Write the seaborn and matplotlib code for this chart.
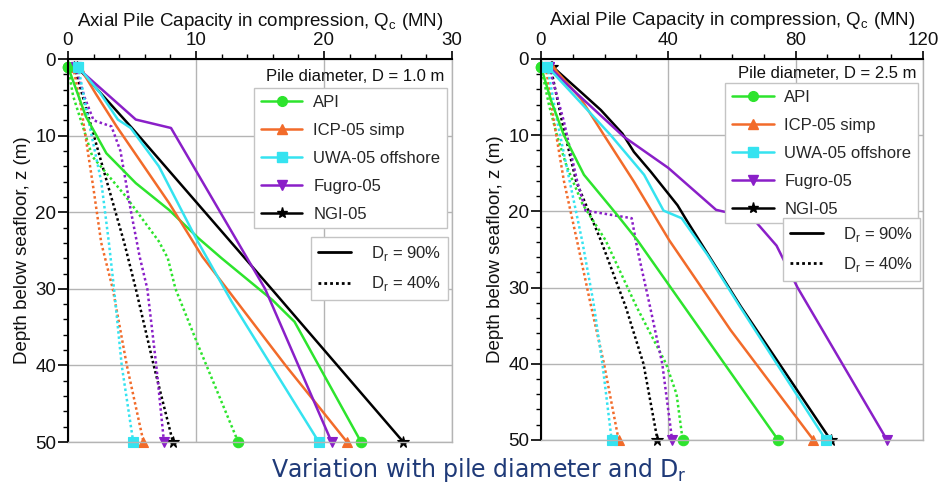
import matplotlib
matplotlib.use("Agg")
import matplotlib.pyplot as plt
from matplotlib.lines import Line2D
from matplotlib.ticker import MultipleLocator
import seaborn as sns

# ---------------- data ----------------
METHODS = ["API", "ICP-05 simp", "UWA-05 offshore", "Fugro-05", "NGI-05"]
COLORS = ["#2de42d", "#f26b2a", "#35e3f0", "#8a1fc8", "#000000"]
MARKERS = ["o", "^", "s", "v", "*"]
DR_LABELS = ["D$_\\mathregular{r}$ = 90%", "D$_\\mathregular{r}$ = 40%"]

# Pile diameter D = 1.0 m  (Q in MN, z in m)
D1_API_90_Q = [0, 1.4, 3.0, 5.3, 7.9, 10.2, 12.0, 16.0, 17.7, 22.9]
D1_API_90_Z = [1, 7.5, 12.3, 16.2, 19.7, 23.4, 26.0, 31.5, 34.3, 50]
D1_ICP_90_Q = [0.9, 2.2, 3.8, 7.9, 10.5, 13.2, 17.0, 19.6, 21.8]
D1_ICP_90_Z = [1, 4.6, 8.8, 18.8, 25.8, 31.7, 40, 45.4, 50]
D1_UWA_90_Q = [0.8, 2.5, 3.9, 4.9, 7.1, 10.0, 12.8, 19.6]
D1_UWA_90_Z = [1, 4.4, 7.9, 9.0, 14.0, 23.4, 31.7, 50]
D1_FUG_90_Q = [0.65, 5.3, 8.05, 15.4, 20.6]
D1_FUG_90_Z = [1, 7.9, 9.0, 30, 50]
D1_NGI_90_Q = [0.7, 5.0, 15.9, 26.2]
D1_NGI_90_Z = [1, 9, 30, 50]

D1_API_40_Q = [0, 0.4, 1.9, 4.5, 7.1, 7.8, 8.4, 10.2, 13.3]
D1_API_40_Z = [1, 4.8, 12.7, 17.9, 23.8, 26, 30, 37.5, 50]
D1_ICP_40_Q = [0.4, 1.0, 2.0, 2.6, 3.5, 4.6, 5.9]
D1_ICP_40_Z = [1, 6, 17, 24, 30, 40, 50]
D1_UWA_40_Q = [0.8, 1.6, 2.6, 3.2, 3.6, 4.2, 5.1]
D1_UWA_40_Z = [1, 8, 16, 24, 30, 40, 50]
D1_FUG_40_Q = [0.6, 1.3, 2.0, 3.4, 4.1, 4.9, 5.6, 6.2, 6.9, 7.5]
D1_FUG_40_Z = [1, 5, 8.0, 8.8, 12, 19.7, 25.8, 30, 40, 50]
D1_NGI_40_Q = [0.5, 1.6, 2.7, 4.4, 5.3, 6.7, 8.2]
D1_NGI_40_Z = [1, 7.5, 14, 24, 30, 40, 50]

# Pile diameter D = 2.5 m
D25_API_90_Q = [0, 3.2, 7.2, 13.5, 24, 30.3, 74.5]
D25_API_90_Z = [1, 5.5, 10, 15.2, 20.5, 23.8, 50]
D25_ICP_90_Q = [3.6, 12.5, 19.8, 29.2, 40.3, 59.6, 85.6]
D25_ICP_90_Z = [1, 5.2, 10, 16.1, 23.8, 35.6, 50]
D25_UWA_90_Q = [2, 9.3, 21.9, 32.4, 38.5, 44.2, 52.3, 62.5, 89.5]
D25_UWA_90_Z = [1, 4.3, 10, 15.2, 19.9, 20.9, 25.7, 32.5, 50]
D25_FUG_90_Q = [2.5, 8.3, 26, 40, 55, 66.5, 74, 80.6, 108.7]
D25_FUG_90_Z = [1, 3.4, 10.2, 14.3, 19.8, 20.9, 24.5, 30, 50]
D25_NGI_90_Q = [3.6, 13.5, 18.8, 25.6, 29.2, 34.5, 42.9, 45.5, 50, 62.8, 91]
D25_NGI_90_Z = [1, 4.7, 6.7, 9.8, 12.2, 14.8, 19.2, 21, 24, 32.5, 50]

D25_API_40_Q = [0, 2.5, 5, 8, 13, 20.3, 30, 39.3, 42.6, 44.5]
D25_API_40_Z = [1, 6, 10, 14, 19, 23.8, 32.5, 40, 44, 50]
D25_ICP_40_Q = [1.5, 4, 7.2, 11.4, 15.5, 19.8, 24.4]
D25_ICP_40_Z = [1, 8, 16, 24, 32, 40, 50]
D25_UWA_40_Q = [2, 5, 8.5, 13, 16.5, 19.3, 22.2]
D25_UWA_40_Z = [1, 8, 15, 24, 32, 40, 50]
D25_FUG_40_Q = [2.5, 7.2, 11.4, 14, 28.5, 30.3, 34, 38.1, 41.2]
D25_FUG_40_Z = [1, 8.2, 16.1, 19.9, 20.9, 25, 32, 40, 50]
D25_NGI_40_Q = [3, 6.5, 11, 15, 18.8, 26.6, 32.2, 36.6]
D25_NGI_40_Z = [1, 8, 16, 20, 23.8, 32.5, 40, 50]

PANEL1_90 = [(D1_API_90_Q, D1_API_90_Z), (D1_ICP_90_Q, D1_ICP_90_Z), (D1_UWA_90_Q, D1_UWA_90_Z),
             (D1_FUG_90_Q, D1_FUG_90_Z), (D1_NGI_90_Q, D1_NGI_90_Z)]
PANEL1_40 = [(D1_API_40_Q, D1_API_40_Z), (D1_ICP_40_Q, D1_ICP_40_Z), (D1_UWA_40_Q, D1_UWA_40_Z),
             (D1_FUG_40_Q, D1_FUG_40_Z), (D1_NGI_40_Q, D1_NGI_40_Z)]
PANEL2_90 = [(D25_API_90_Q, D25_API_90_Z), (D25_ICP_90_Q, D25_ICP_90_Z), (D25_UWA_90_Q, D25_UWA_90_Z),
             (D25_FUG_90_Q, D25_FUG_90_Z), (D25_NGI_90_Q, D25_NGI_90_Z)]
PANEL2_40 = [(D25_API_40_Q, D25_API_40_Z), (D25_ICP_40_Q, D25_ICP_40_Z), (D25_UWA_40_Q, D25_UWA_40_Z),
             (D25_FUG_40_Q, D25_FUG_40_Z), (D25_NGI_40_Q, D25_NGI_40_Z)]

XLABEL = "Axial Pile Capacity in compression, Q$_\\mathregular{c}$ (MN)"
YLABEL = "Depth below seafloor, z (m)"
CAPTION = "Variation with pile diameter and D$_\\mathregular{r}$"

# ---------------- style ----------------
sns.set_theme(style="white")
plt.rcParams["font.family"] = ["Liberation Sans", "DejaVu Sans"]

DOT = (0, (1, 1.1))
LW = 1.8
GRID = "#b4b4b4"
FS = 13.5
MS = {"o": 7.5, "^": 7.5, "s": 7.5, "v": 7.5, "*": 8.5}

fig = plt.figure(figsize=(9.4, 4.86), dpi=100)
ax1 = fig.add_axes([0.0723, 0.0905, 0.4085, 0.788])
ax2 = fig.add_axes([0.5755, 0.0947, 0.4064, 0.784])

order = [4, 0, 1, 3, 2]


def draw_panel(ax, s90, s40, xmax, xmajor, xminor, dtext, txt_xy, leg1_anchor, leg2_anchor, title_y):
    for ls, series in ((DOT, s40), ("-", s90)):
        for i in order:
            q, z = series[i]
            sns.lineplot(x=q, y=z, ax=ax, sort=False, estimator=None, color=COLORS[i],
                         linewidth=LW, linestyle=ls, marker=MARKERS[i], markersize=MS[MARKERS[i]],
                         markeredgecolor=COLORS[i], markeredgewidth=0.8,
                         markevery=[0, len(q) - 1], clip_on=False, legend=False)
    ax.set_xlim(0, xmax)
    ax.set_ylim(50, 0)
    ax.xaxis.set_major_locator(MultipleLocator(xmajor))
    ax.xaxis.set_minor_locator(MultipleLocator(xminor))
    ax.yaxis.set_major_locator(MultipleLocator(10))
    ax.yaxis.set_minor_locator(MultipleLocator(2))
    ax.xaxis.tick_top()
    ax.tick_params(axis="both", which="major", direction="out", length=5.5, width=1.2,
                   color="black", labelsize=FS, pad=1.5, labelcolor="#111111")
    ax.tick_params(axis="both", which="minor", direction="out", length=3.5, width=1.0, color="black")
    ax.tick_params(axis="y", which="major", length=7)
    ax.tick_params(axis="x", which="both", top=True, bottom=False, labeltop=True, labelbottom=False)
    ax.tick_params(axis="y", which="both", left=True, right=False)
    ax.grid(True, which="major", color=GRID, linewidth=1.0)
    ax.set_axisbelow(True)
    for s in ("top", "left"):
        ax.spines[s].set_color("black")
        ax.spines[s].set_linewidth(1.5)
    for s in ("right", "bottom"):
        ax.spines[s].set_color(GRID)
        ax.spines[s].set_linewidth(1.0)
    ax.set_xlabel("")
    ax.set_ylabel(YLABEL, fontsize=FS, labelpad=3, color="#111111")
    ax.text(0.5, title_y, XLABEL, transform=ax.transAxes, ha="center", va="center",
            fontsize=FS, color="#111111")

    ax.text(txt_xy[0], txt_xy[1], dtext, transform=ax.transAxes, ha="right", va="center",
            fontsize=12, color="#111111")

    h1 = [Line2D([], [], color=COLORS[i], lw=LW, marker=MARKERS[i], ms=MS[MARKERS[i]] - 0.5,
                 mec=COLORS[i]) for i in range(5)]
    leg1 = ax.legend(h1, METHODS, loc="upper right", bbox_to_anchor=leg1_anchor,
                     frameon=True, fancybox=False, edgecolor="#c4c4c4", framealpha=1,
                     fontsize=12, handlelength=2.5, handletextpad=0.65, labelspacing=0.78,
                     borderpad=0.4, borderaxespad=0)
    leg1.get_frame().set_linewidth(1.0)
    ax.add_artist(leg1)
    h2 = [Line2D([], [], color="black", lw=2.0, ls="-"), Line2D([], [], color="black", lw=2.0, ls=DOT)]
    leg2 = ax.legend(h2, DR_LABELS, loc="upper right", bbox_to_anchor=leg2_anchor,
                     frameon=True, fancybox=False, edgecolor="#c4c4c4", framealpha=1,
                     fontsize=12, handlelength=2.0, handletextpad=1.2, labelspacing=0.7,
                     borderpad=0.4, borderaxespad=0)
    leg2.get_frame().set_linewidth(1.0)


draw_panel(ax1, PANEL1_90, PANEL1_40, 30, 10, 2, "Pile diameter, D = 1.0 m",
           (0.979, 0.954), (0.987, 0.924), (0.99, 0.535), 1 + 38 / 383)
draw_panel(ax2, PANEL2_90, PANEL2_40, 120, 40, 10, "Pile diameter, D = 2.5 m",
           (0.984, 0.962), (0.987, 0.937), (0.992, 0.583), 1 + 38 / 381)

fig.text(0.509, 0.033, CAPTION, ha="center", va="center", fontsize=17,
         color="#1f3a78", family=["DejaVu Sans"])

fig.savefig("out.png", dpi=100)
